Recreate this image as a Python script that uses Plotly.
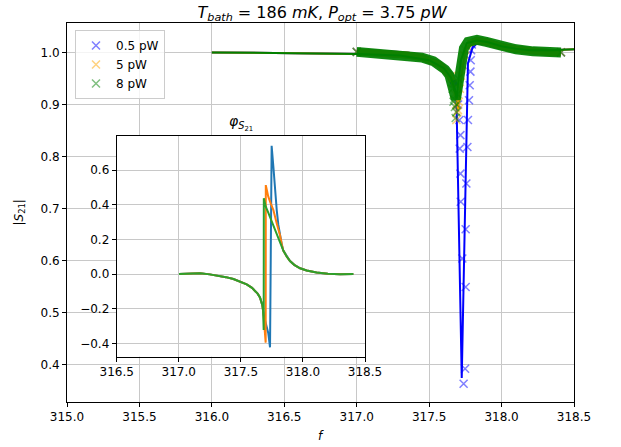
import plotly.graph_objects as go

FONT = "DejaVu Sans"

# ---------------- |S21| measurements (frequency in MHz) ----------------
# dense sweep regions (merged markers), left and right of the resonance
band_f_05 = [317.00, 317.20, 317.35, 317.45, 317.57, 317.64, 317.68, None,
             317.80, 317.83, 317.90, 317.99, 318.10, 318.22, 318.33, 318.41]
band_s_05 = [1.001, 0.998, 0.995, 0.990, 0.977, 0.958, 0.935, None,
             1.020, 1.023, 1.020, 1.012, 1.006, 1.002, 1.000, 1.000]
band_f_5 = [317.00, 317.20, 317.35, 317.45, 317.57, 317.64, 317.66, None,
            317.77, 317.83, 317.90, 317.99, 318.10, 318.22, 318.33, 318.41]
band_s_5 = [1.001, 0.998, 0.995, 0.990, 0.977, 0.956, 0.945, None,
            1.016, 1.023, 1.020, 1.012, 1.006, 1.002, 1.000, 1.000]
band_f_8 = [317.00, 317.20, 317.35, 317.45, 317.53, 317.57, 317.61, 317.64,
            317.665, 317.676, 317.684, 317.692, 317.705, 317.72, 317.74,
            317.768, 317.80, 317.83, 317.895, 317.987, 318.10, 318.217,
            318.33, 318.41]
band_s_8 = [1.001, 0.998, 0.995, 0.990, 0.983, 0.977, 0.967, 0.956,
            0.937, 0.920, 0.910, 0.922, 0.948, 0.983, 1.008,
            1.020, 1.024, 1.024, 1.020, 1.012, 1.006, 1.002,
            1.000, 1.000]

# individual points through the resonance
pts_f_05 = [317.700, 317.709, 317.716, 317.711, 317.716, 317.718, 317.729, 317.738,
            317.748, 317.752, 317.752, 317.757, 317.764, 317.768, 317.775, 317.780,
            317.785, 317.787, 317.790, 317.795, 317.00, 318.41]
pts_s_05 = [0.900, 0.870, 0.841, 0.815, 0.767, 0.713, 0.604, 0.363,
            0.392, 0.549, 0.660, 0.748, 0.818, 0.870, 0.908, 0.937,
            0.963, 0.985, 1.004, 1.015, 1.001, 1.000]
pts_f_5 = [317.655, 317.665, 317.675, 317.685, 317.688, 317.695, 317.699, 317.705,
           317.712, 317.720, 317.730, 317.742, 317.750, 317.760, 317.00, 318.41]
pts_s_5 = [0.955, 0.940, 0.920, 0.900, 0.870, 0.885, 0.889, 0.905,
           0.930, 0.955, 0.975, 0.995, 1.005, 1.012, 1.001, 1.000]
pts_f_8 = [317.662, 317.668, 317.672, 317.678, 317.683, 317.688, 317.690, 317.694,
           317.700, 317.00, 318.41]
pts_s_8 = [0.930, 0.905, 0.910, 0.895, 0.874, 0.885, 0.900, 0.920,
           0.950, 1.001, 1.000]

# ---------------- |S21| model curves ----------------
fit_f_05 = [316.0, 316.5, 317.0, 317.3, 317.5, 317.6, 317.66, 317.688, 317.725,
            317.768, 317.80, 317.826, 317.90, 318.0, 318.2, 318.35, 318.5]
fit_s_05 = [1.000, 0.999, 0.997, 0.994, 0.985, 0.972, 0.950, 0.918, 0.374,
            0.979, 1.010, 1.016, 1.017, 1.012, 1.005, 1.004, 1.006]
fit_f_5 = [316.0, 316.5, 317.0, 317.3, 317.5, 317.6, 317.65, 317.68, 317.70,
           317.72, 317.75, 317.80, 317.90, 318.0, 318.2, 318.35, 318.5]
fit_s_5 = [1.000, 0.999, 0.997, 0.994, 0.985, 0.970, 0.952, 0.920, 0.890,
           0.950, 1.005, 1.021, 1.019, 1.012, 1.005, 1.004, 1.006]
fit_f_8 = [316.0, 316.5, 317.0, 317.3, 317.5, 317.6, 317.65, 317.68, 317.69,
           317.70, 317.72, 317.76, 317.83, 317.90, 318.0, 318.1, 318.2, 318.35, 318.5]
fit_s_8 = [1.000, 0.999, 0.997, 0.994, 0.985, 0.970, 0.952, 0.925, 0.912,
           0.940, 0.985, 1.018, 1.023, 1.020, 1.012, 1.007, 1.004, 1.004, 1.006]

# ---------------- phase of S21 (inset) ----------------
ph_f_05 = [317.002, 317.10, 317.171, 317.25, 317.305, 317.38, 317.44, 317.50,
           317.547, 317.59, 317.614, 317.635, 317.654, 317.665, 317.673,
           317.685, 317.700, 317.721, 317.735, 317.748, 317.762, 317.775,
           317.789, 317.802, 317.815, 317.83, 317.842, 317.87, 317.896,
           317.93, 317.977, 318.03, 318.11, 318.20, 318.30, 318.406]
ph_05 = [0.000, 0.004, 0.004, -0.002, -0.008, -0.018, -0.029, -0.045,
         -0.060, -0.080, -0.095, -0.113, -0.135, -0.155, -0.180,
         -0.240, -0.285, -0.342, -0.423, 0.740, 0.619, 0.485,
         0.369, 0.283, 0.225, 0.170, 0.135, 0.100, 0.075,
         0.053, 0.033, 0.020, 0.009, 0.002, -0.002, 0.000]
ph_f_5 = [317.002, 317.10, 317.171, 317.25, 317.305, 317.38, 317.44, 317.50,
          317.547, 317.59, 317.614, 317.635, 317.654, 317.665, 317.673,
          317.682, 317.690, 317.697, 317.700, 317.701, 317.721, 317.742,
          317.762, 317.789, 317.815, 317.83, 317.842, 317.87, 317.896,
          317.93, 317.977, 318.03, 318.11, 318.20, 318.30, 318.406]
ph_5 = [0.000, 0.004, 0.004, -0.002, -0.008, -0.018, -0.029, -0.045,
        -0.060, -0.080, -0.095, -0.113, -0.135, -0.155, -0.180,
        -0.230, -0.290, -0.350, -0.396, 0.513, 0.446, 0.405,
        0.369, 0.292, 0.225, 0.170, 0.135, 0.100, 0.075,
        0.053, 0.033, 0.020, 0.009, 0.002, -0.002, 0.000]
ph_f_8 = [317.002, 317.10, 317.171, 317.25, 317.305, 317.38, 317.44, 317.50,
          317.547, 317.59, 317.614, 317.635, 317.654, 317.665, 317.673,
          317.679, 317.682, 317.684, 317.685, 317.700, 317.720, 317.740,
          317.762, 317.780, 317.800, 317.815, 317.842, 317.87, 317.896,
          317.93, 317.977, 318.03, 318.11, 318.20, 318.30, 318.406]
ph_8 = [0.000, 0.004, 0.004, -0.002, -0.008, -0.018, -0.029, -0.045,
        -0.060, -0.080, -0.095, -0.113, -0.135, -0.155, -0.180,
        -0.210, -0.250, -0.323, 0.437, 0.390, 0.355, 0.320,
        0.285, 0.245, 0.210, 0.185, 0.135, 0.100, 0.075,
        0.053, 0.033, 0.020, 0.009, 0.002, -0.002, 0.000]

labels = ["0.5 pW", "5 pW", "8 pW"]
main_cols = [(0, 0, 255), (255, 165, 0), (0, 128, 0)]
band_widths = [7, 7, 10]
phase_cols = ["#1f77b4", "#ff7f0e", "#2ca02c"]

bands = [(band_f_05, band_s_05), (band_f_5, band_s_5), (band_f_8, band_s_8)]
points = [(pts_f_05, pts_s_05), (pts_f_5, pts_s_5), (pts_f_8, pts_s_8)]
fits = [(fit_f_05, fit_s_05), (fit_f_5, fit_s_5), (fit_f_8, fit_s_8)]
phases = [(ph_f_05, ph_05), (ph_f_5, ph_5), (ph_f_8, ph_8)]


def rgba(c, a):
    return "rgba(%d,%d,%d,%.2f)" % (c[0], c[1], c[2], a)


fig = go.Figure()

for i, lab in enumerate(labels):
    c = main_cols[i]
    bf, bs = bands[i]
    fig.add_trace(go.Scatter(
        x=bf, y=bs, mode="lines", showlegend=False, hoverinfo="skip",
        line=dict(color=rgba(c, 0.93), width=band_widths[i]),
        connectgaps=False, xaxis="x", yaxis="y"))
    pf, ps = points[i]
    fig.add_trace(go.Scatter(
        x=pf, y=ps, mode="markers", name=lab,
        marker=dict(symbol="x-thin", size=8,
                    line=dict(color=rgba(c, 0.5), width=1.5)),
        xaxis="x", yaxis="y"))
    ff, fs = fits[i]
    fig.add_trace(go.Scatter(
        x=ff, y=fs, mode="lines", showlegend=False,
        line=dict(color=rgba(c, 1.0), width=2),
        xaxis="x", yaxis="y"))

for i, lab in enumerate(labels):
    xf, yp = phases[i]
    fig.add_trace(go.Scatter(
        x=xf, y=yp, mode="lines", showlegend=False,
        line=dict(color=phase_cols[i], width=2),
        xaxis="x2", yaxis="y2"))

axis_common = dict(
    showline=True, linecolor="black", linewidth=1, mirror=True,
    ticks="outside", ticklen=4, tickwidth=1, tickcolor="black",
    showgrid=True, gridcolor="#c8c8c8", gridwidth=1, zeroline=False,
    tickfont=dict(family=FONT, size=12, color="black"),
    tickformat=".1f", automargin=False,
)

W, H = 621, 447
ml, mr, mt, mb = 67, 47, 23, 45
pw, ph = W - ml - mr, H - mt - mb


def px_x(px):
    return (px - ml) / pw


def px_y(py):
    return (H - mb - py) / ph


text_font = dict(family=FONT, size=12, color="black")

fig.update_layout(
    width=W, height=H,
    margin=dict(l=ml, r=mr, t=mt, b=mb, autoexpand=False),
    paper_bgcolor="white", plot_bgcolor="white",
    font=text_font,
    title=dict(
        text="<i>T</i><sub><i>bath</i></sub> = 186 <i>mK</i>, "
             "<i>P</i><sub><i>opt</i></sub> = 3.75 <i>pW</i>",
        x=322 / W, xanchor="center",
        y=1 - 12 / H, yanchor="middle",
        font=dict(family=FONT, size=16, color="black")),
    xaxis=dict(axis_common, range=[315.0, 318.5], dtick=0.5, tick0=315.0,
               domain=[0, 1], anchor="y"),
    yaxis=dict(axis_common, range=[0.328, 1.0565], dtick=0.1, tick0=0.4,
               domain=[0, 1], anchor="x"),
    xaxis2=dict(axis_common, range=[316.5, 318.5], dtick=0.5, tick0=316.5,
                domain=[px_x(116.7), px_x(365.0)], anchor="y2"),
    yaxis2=dict(axis_common, range=[-0.477, 0.798], dtick=0.2, tick0=0.0,
                domain=[px_y(356.7), px_y(135.7)], anchor="x2"),
    legend=dict(
        x=px_x(75), y=px_y(30), xanchor="left", yanchor="top",
        bgcolor="rgba(255,255,255,0.8)", bordercolor="#cccccc", borderwidth=1,
        font=text_font, tracegroupgap=0),
    annotations=[
        dict(text="<i>φ</i><sub><i>S</i><sub>21</sub></sub>",
             xref="paper", yref="paper", x=(px_x(116.7) + px_x(365.0)) / 2,
             y=px_y(123), xanchor="center", yanchor="middle", showarrow=False,
             font=dict(family=FONT, size=14, color="black")),
        dict(text="<i>f</i>", xref="paper", yref="paper",
             x=0.5, y=px_y(436), xanchor="center", yanchor="middle",
             showarrow=False, font=text_font),
        dict(text="|<i>S</i><sub>21</sub>|", xref="paper", yref="paper",
             x=px_x(19), y=0.5, xanchor="center", yanchor="middle",
             textangle=-90, showarrow=False, font=text_font),
    ],
)

fig.write_html("out.html")
